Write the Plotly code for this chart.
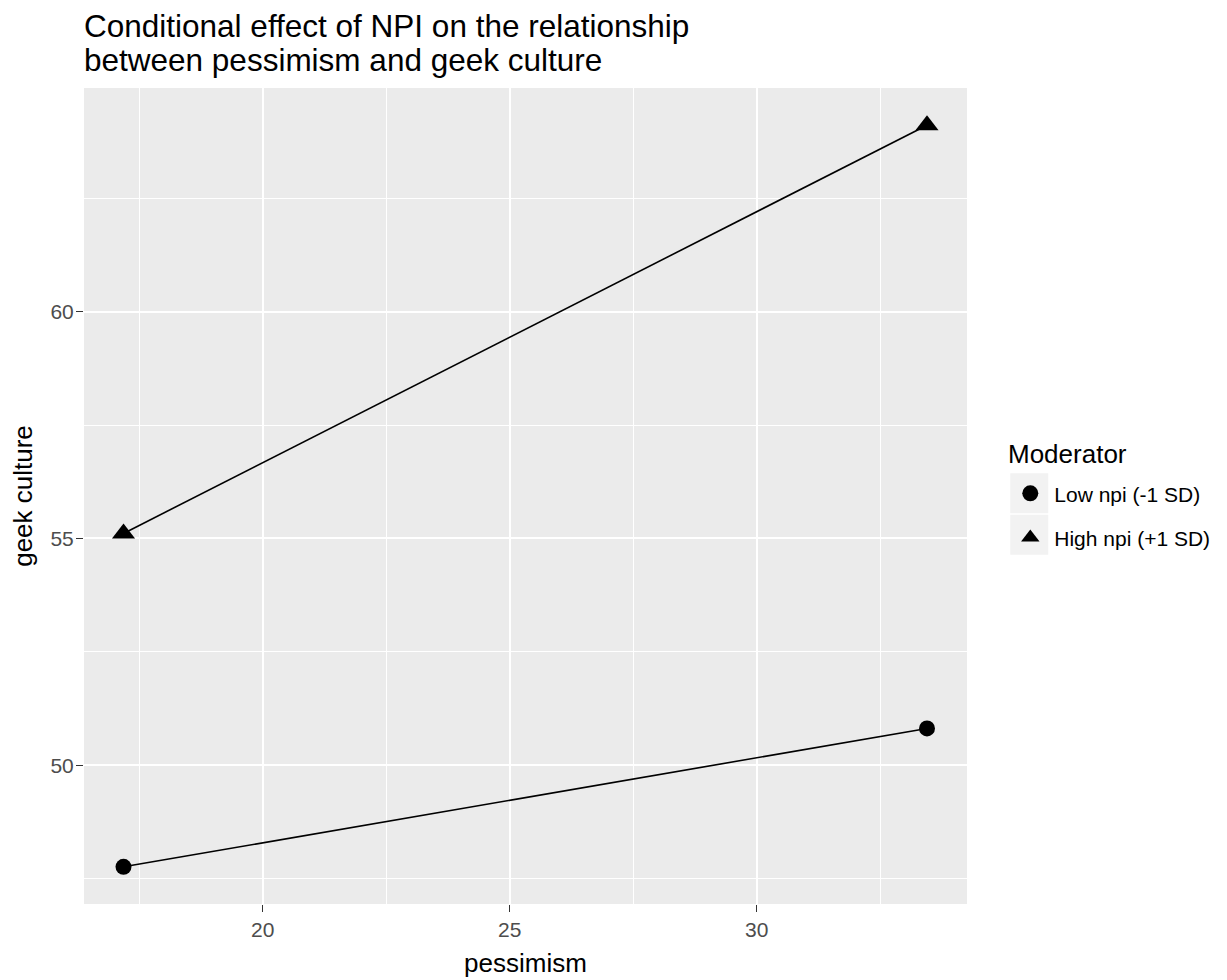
import plotly.graph_objects as go

# Data
pessimism = [17.18, 33.45]
low_npi = [47.76, 50.81]
high_npi = [55.11, 64.11]
series_names = ["Low npi (-1 SD)", "High npi (+1 SD)"]
x_ticks = [20, 25, 30]
y_ticks = [50, 55, 60]

FONT = "Liberation Sans, Arial, sans-serif"

fig = go.Figure()

# lines (no legend)
for ys in (low_npi, high_npi):
    fig.add_trace(go.Scatter(x=pessimism, y=ys, mode="lines",
                             line=dict(color="black", width=1.6),
                             showlegend=False, hoverinfo="skip"))

# points (legend)
fig.add_trace(go.Scatter(x=pessimism, y=low_npi, mode="markers", name=series_names[0],
                         marker=dict(symbol="circle", size=16, color="black"),
                         legendgroup="a"))
fig.add_trace(go.Scatter(x=pessimism, y=high_npi, mode="markers", name=series_names[1],
                         marker=dict(symbol="triangle-up", size=20, color="black"),
                         legendgroup="b"))

axis_common = dict(
    showline=False, zeroline=False, automargin=False,
    showgrid=True, gridcolor="white", gridwidth=2,
    ticks="outside", ticklen=7, tickwidth=1.4, tickcolor="#333333",
    tickfont=dict(family=FONT, size=21, color="#4D4D4D"),
    minor=dict(showgrid=True, gridcolor="white", gridwidth=1, dtick=2.5, tick0=0, ticks=""),
)

fig.update_xaxes(range=[16.38, 34.26], tickvals=x_ticks, ticktext=[str(v) for v in x_ticks],
                 title=dict(text="pessimism", font=dict(family=FONT, size=26, color="black"),
                            standoff=13),
                 **axis_common)
fig.update_yaxes(range=[46.94, 64.93], tickvals=y_ticks, ticktext=[str(v) for v in y_ticks],
                 ticklabelstandoff=-2,
                 title=dict(text="geek culture", font=dict(family=FONT, size=26, color="black"),
                            standoff=14),
                 **axis_common)

# legend key backgrounds
for y0, y1 in ((0.479, 0.528), (0.428, 0.477)):
    fig.add_shape(type="rect", xref="paper", yref="paper",
                  x0=1.049, x1=1.092, y0=y0, y1=y1,
                  fillcolor="#F2F2F2", line=dict(width=0), layer="below")

# title (two lines, tight line spacing)
fig.add_annotation(text="Conditional effect of NPI on the relationship", xref="paper", yref="paper",
                   x=0, y=1.0760, xanchor="left", yanchor="middle", showarrow=False, xshift=-2,
                   font=dict(family=FONT, size=31.5, color="black"))
fig.add_annotation(text="between pessimism and geek culture", xref="paper", yref="paper",
                   x=0, y=1.0349, xanchor="left", yanchor="middle", showarrow=False, xshift=-2,
                   font=dict(family=FONT, size=31.5, color="black"))

# legend title
fig.add_annotation(text="Moderator", xref="paper", yref="paper",
                   x=1.0445, y=0.5515, xanchor="left", yanchor="middle", showarrow=False,
                   font=dict(family=FONT, size=26, color="black"))

fig.update_layout(
    width=1219, height=972,
    margin=dict(l=76, r=258, t=80, b=76),
    paper_bgcolor="white", plot_bgcolor="#EBEBEB",
    font=dict(family=FONT),
    legend=dict(
        font=dict(family=FONT, size=21, color="black"),
        x=1.0445, xanchor="left", y=0.528, yanchor="top",
        bgcolor="rgba(0,0,0,0)", traceorder="grouped", tracegroupgap=14,
        itemwidth=38,
    ),
)

fig.write_html("out.html")
